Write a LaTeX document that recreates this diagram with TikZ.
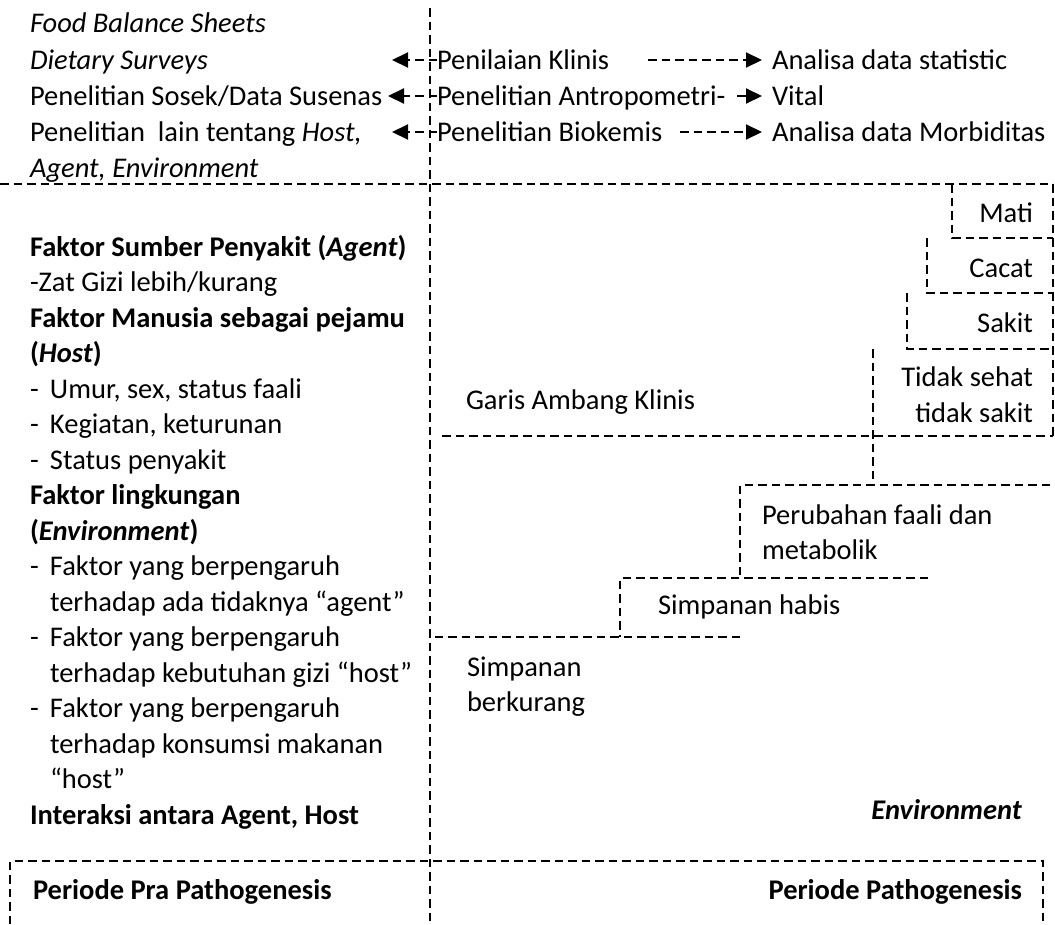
\documentclass[tikz,border=0pt]{standalone}
\usepackage{fontspec}
\setmainfont{Carlito}
\usetikzlibrary{arrows.meta}
\newcommand{\dashitem}{\makebox[20pt][l]{-}}
\begin{document}
\begin{tikzpicture}[x=1pt,y=-1pt,
  dline/.style={line width=2pt, dash pattern=on 8.5pt off 5pt},
  arr/.style={dline, -{Triangle[length=16pt,width=15pt]}},
  lbl/.style={font=\fontsize{28.5}{35.5}\selectfont, inner sep=0pt, outer sep=0pt},
  lw/.style={lbl, anchor=base west},
  le/.style={lbl, anchor=base east}]
\useasboundingbox (0,0) rectangle (1055,924);

% ---------- assessment methods (top band) ----------
\node[lw] (fbs)   at (30,32)  {\textit{Food Balance Sheets}};
\node[lw] (diet)  at (30,69)  {\textit{Dietary Surveys}};
\node[lw] (sosek) at (30,105) {Penelitian Sosek/Data Susenas};
\node[lw] (lain)  at (30,141) {Penelitian~ lain tentang \textit{Host,}};
\node[lw] (lain2) at (30,177) {\textit{Agent, Environment}};

\node[lw] (klinis) at (437,69)  {Penilaian Klinis};
\node[lw] (antro)  at (437,105) {Penelitian Antropometri-};
\node[lw] (biok)   at (437,141) {Penelitian Biokemis};

\node[lw] (stat)  at (772,69)  {Analisa data statistic};
\node[lw] (vital) at (772,105) {Vital};
\node[lw] (morb)  at (772,141) {Analisa data Morbiditas};

% arrow ends
\coordinate (kL) at (437,60);  \coordinate (kT) at (392,60);
\coordinate (aL) at (437,96);  \coordinate (aT) at (388,96);
\coordinate (bL) at (437,132); \coordinate (bT) at (392,132);
\coordinate (kR) at (648,60);  \coordinate (sR) at (762,60);
\coordinate (aR) at (737,96);  \coordinate (vR) at (762,96);
\coordinate (bR) at (680,132); \coordinate (mR) at (762,132);

\draw[arr] (kL) -- (kT);
\draw[arr] (aL) -- (aT);
\draw[arr] (bL) -- (bT);
\draw[arr] (kR) -- (sR);
\draw[arr] (aR) -- (vR);
\draw[arr] (bR) -- (mR);

% ---------- frame lines ----------
\draw[dline] (430,8) -- (430,924);
\draw[dline] (0,184) -- (1053,184);
\draw[dline] (1053,184) -- (1053,436);

% ---------- staircase of stages ----------
\draw[dline] (952,184) -- (952,238) -- (1053,238);
\draw[dline] (927,238) -- (927,293) -- (1053,293);
\draw[dline] (907,293) -- (907,349) -- (1053,349);
\draw[dline] (873,349) -- (873,485);
\draw[dline] (442,436) -- (1053,436);
\draw[dline] (1050,485) -- (740,485) -- (740,578);
\draw[dline] (928,578) -- (620,578) -- (620,637);
\draw[dline] (740,637) -- (430,637);

\node[le] (mati)   at (1033,222) {Mati};
\node[le] (cacat)  at (1033,277) {Cacat};
\node[le] (sakit)  at (1033,332) {Sakit};
\node[le] (tidak1) at (1033,386) {Tidak sehat};
\node[le] (tidak2) at (1033,422) {tidak sakit};
\node[lw] (garis)  at (466,409) {Garis Ambang Klinis};
\node[lw] (ubah1)  at (762,524) {Perubahan faali dan};
\node[lw] (ubah2)  at (762,559) {metabolik};
\node[lw] (habis)  at (658,614) {Simpanan habis};
\node[lw] (kurang1) at (467,676) {Simpanan};
\node[lw] (kurang2) at (467,711) {berkurang};
\node[le] (env)    at (1022,819) {\textbf{\textit{Environment}}};

% ---------- factors (left column) ----------
\node[lw] (f1)  at (30,256)   {\textbf{Faktor Sumber Penyakit (\textit{Agent})}};
\node[lw] (f2)  at (30,291.5) {-Zat Gizi lebih/kurang};
\node[lw] (f3)  at (30,327)   {\textbf{Faktor Manusia sebagai pejamu}};
\node[lw] (f4)  at (30,362.5) {\textbf{(\textit{Host})}};
\node[lw] (f5)  at (30,398)   {\dashitem Umur, sex, status faali};
\node[lw] (f6)  at (30,433.5) {\dashitem Kegiatan, keturunan};
\node[lw] (f7)  at (30,469)   {\dashitem Status penyakit};
\node[lw] (f8)  at (30,504.5) {\textbf{Faktor lingkungan}};
\node[lw] (f9)  at (30,540)   {\textbf{(\textit{Environment})}};
\node[lw] (f10) at (30,575.5) {\dashitem Faktor yang berpengaruh};
\node[lw] (f11) at (50,611)   {terhadap ada tidaknya “agent”};
\node[lw] (f12) at (30,646.5) {\dashitem Faktor yang berpengaruh};
\node[lw] (f13) at (50,682)   {terhadap kebutuhan gizi “host”};
\node[lw] (f14) at (30,717.5) {\dashitem Faktor yang berpengaruh};
\node[lw] (f15) at (50,753)   {terhadap konsumsi makanan};
\node[lw] (f16) at (50,788.5) {“host”};
\node[lw] (f17) at (30,824)   {\textbf{Interaksi antara Agent, Host}};

% ---------- periods (bottom band) ----------
\draw[dline] (10,924) -- (10,861) -- (1043,861) -- (1043,924);
\node[lw] (pra)  at (33,899)   {\textbf{Periode Pra Pathogenesis}};
\node[le] (path) at (1022,899) {\textbf{Periode Pathogenesis}};
\end{tikzpicture}
\end{document}
